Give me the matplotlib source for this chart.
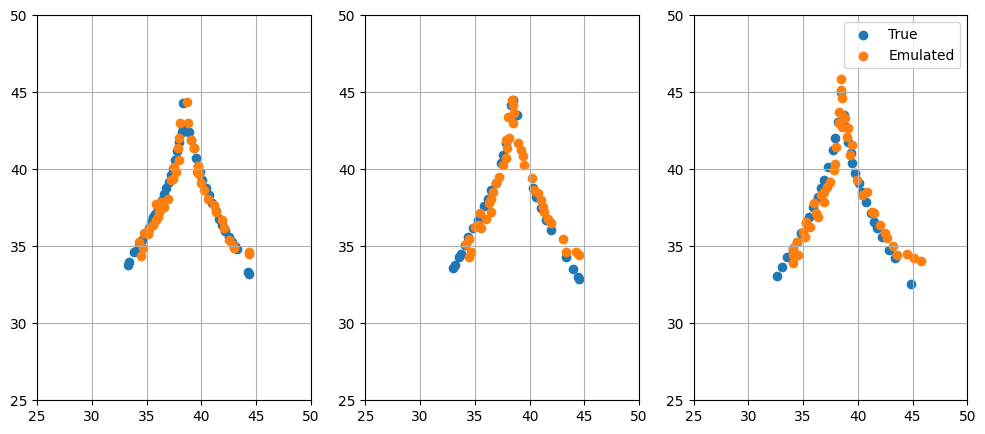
import matplotlib
matplotlib.use("Agg")
import matplotlib.pyplot as plt

# panel 1
true1_x = [33.3, 33.4, 33.8, 34.0, 34.3, 34.6, 34.9, 35.2, 35.4, 35.6, 35.8, 36.0, 36.2, 36.4,
           36.6, 36.8, 37.0, 37.2, 37.4, 37.6, 37.8, 38.0, 38.2, 38.3, 38.35,
           38.6, 38.9, 39.1, 39.3, 39.5, 39.7, 39.9, 40.1, 40.4, 40.7, 41.0, 41.3, 41.6,
           41.9, 42.2, 42.5, 42.8, 43.1, 43.3, 44.3, 44.4]
true1_y = [33.8, 34.0, 34.6, 34.7, 35.0, 35.4, 35.8, 36.2, 36.6, 36.9, 37.1, 37.4, 37.7, 38.0,
           38.4, 38.8, 39.2, 39.6, 40.0, 40.6, 41.2, 41.8, 42.4, 42.6, 44.3,
           42.5, 42.4, 41.9, 41.4, 40.7, 40.2, 39.8, 39.3, 38.8, 38.3, 37.8, 37.3, 36.8,
           36.4, 36.0, 35.6, 35.3, 35.0, 34.8, 33.3, 33.2]
emu1_x = [38.66, 38.08, 38.78, 37.99, 39.1, 39.3, 37.84, 37.93, 37.53, 37.7, 37.4, 37.2,
          39.66, 39.8, 39.6, 40.0, 40.27, 40.64, 41.2, 41.34, 41.9, 42.1, 42.56, 42.87,
          42.96, 44.33, 44.33, 36.92, 36.3, 35.85, 36.6, 36.16, 35.85, 35.55, 35.18, 34.8,
          34.33, 34.63, 34.48, 36.4, 36.0, 35.1]
emu1_y = [44.38, 43.0, 43.0, 42.0, 41.9, 41.37, 41.37, 40.6, 40.17, 39.85, 39.4, 39.3,
          40.2, 39.7, 39.85, 39.1, 38.65, 38.05, 37.7, 37.25, 36.7, 36.16, 35.4, 35.08,
          34.86, 34.64, 34.53, 38.1, 37.9, 37.74, 37.57, 37.25, 36.7, 36.38, 36.05, 35.83,
          35.3, 34.86, 34.36, 37.46, 36.9, 35.8]

# panel 2
true2_x = [32.99, 33.15, 33.54, 33.75, 34.06, 34.36, 34.82, 35.27, 35.88, 36.19, 36.5, 36.95,
           37.4, 37.55, 37.86, 38.3, 38.53, 38.83, 40.29, 40.6, 41.05, 41.5, 41.96, 43.33,
           43.94, 44.4, 44.48]
true2_y = [33.56, 33.77, 34.3, 34.5, 35.07, 35.6, 36.16, 36.7, 37.6, 38.1, 38.65, 39.09,
           40.4, 40.93, 41.7, 44.19, 44.47, 43.5, 38.76, 38.2, 37.46, 36.7, 36.05, 34.32,
           33.5, 33.0, 32.9]
emu2_x = [38.4, 38.53, 38.62, 38.0, 38.47, 38.1, 37.86, 37.92, 37.8, 37.55, 38.92, 39.22,
          39.44, 39.47, 40.23, 40.44, 40.8, 41.05, 41.2, 41.35, 41.66, 41.96, 43.02, 43.33,
          44.24, 44.48, 37.25, 36.95, 36.64, 36.5, 36.28, 36.5, 35.43, 36.0, 35.27, 35.58,
          34.97, 34.5, 34.15, 34.67, 34.45]
emu2_y = [44.47, 44.19, 43.64, 43.38, 43.0, 42.0, 41.9, 41.37, 40.7, 40.28, 41.7, 41.26,
          40.87, 40.28, 39.41, 38.65, 38.44, 38.0, 37.57, 37.25, 36.8, 36.5, 35.5, 34.64,
          34.64, 34.43, 39.52, 39.09, 38.55, 38.1, 37.8, 37.25, 37.14, 36.8, 36.38, 36.16,
          36.27, 35.5, 35.18, 34.64, 34.32]

# panel 3
true3_x = [32.6, 33.08, 33.5, 34.06, 34.42, 34.82, 35.27, 35.58, 35.94, 36.34, 36.64, 36.95,
           37.25, 37.7, 37.92, 38.15, 38.45, 38.75, 38.9, 39.1, 39.36, 39.5, 39.75, 40.1,
           40.4, 40.77, 41.17, 41.47, 41.78, 42.23, 42.84, 43.4, 44.9]
true3_y = [33.07, 33.64, 34.29, 34.76, 35.3, 35.84, 36.5, 36.93, 37.58, 38.23, 38.77, 39.3,
           40.17, 41.26, 42.0, 43.1, 45.04, 43.53, 42.77, 41.8, 41.04, 40.39, 39.74, 39.1,
           38.55, 37.9, 37.14, 36.6, 36.17, 35.63, 34.76, 34.22, 32.53]
emu3_x = [38.5, 38.5, 38.6, 38.3, 38.54, 38.84, 38.24, 38.54, 39.09, 39.0, 39.45, 39.3,
          37.98, 37.89, 37.83, 37.45, 37.2, 36.9, 36.6, 36.95, 36.0, 36.2, 36.4, 35.3, 35.6,
          35.0, 35.15, 34.4, 34.1, 34.06, 34.5, 34.1, 39.9, 40.4, 40.87, 41.26, 41.47,
          42.07, 42.53, 42.7, 43.2, 43.6, 44.5, 45.1, 45.8]
emu3_y = [45.84, 45.15, 44.6, 43.74, 43.53, 43.3, 42.99, 42.77, 42.66, 42.12, 41.58, 40.93,
          41.47, 40.35, 39.96, 39.2, 38.87, 38.55, 38.33, 37.9, 37.84, 37.14, 36.93, 36.6,
          36.28, 35.95, 35.63, 35.3, 34.87, 34.44, 34.44, 33.9, 39.3, 38.33, 38.55, 37.25,
          37.14, 36.39, 35.84, 35.52, 35.02, 34.44, 34.48, 34.22, 34.07]

panels = [
    (true1_x, true1_y, emu1_x, emu1_y),
    (true2_x, true2_y, emu2_x, emu2_y),
    (true3_x, true3_y, emu3_x, emu3_y),
]

fig, axes = plt.subplots(1, 3, figsize=(12, 5))
for ax, (tx, ty, ex, ey) in zip(axes, panels):
    ax.scatter(tx, ty, label='True')
    ax.scatter(ex, ey, label='Emulated')
    ax.set_xlim(25, 50)
    ax.set_ylim(25, 50)
    ax.grid(True)
axes[2].legend()

plt.savefig("out.png", bbox_inches='tight')
